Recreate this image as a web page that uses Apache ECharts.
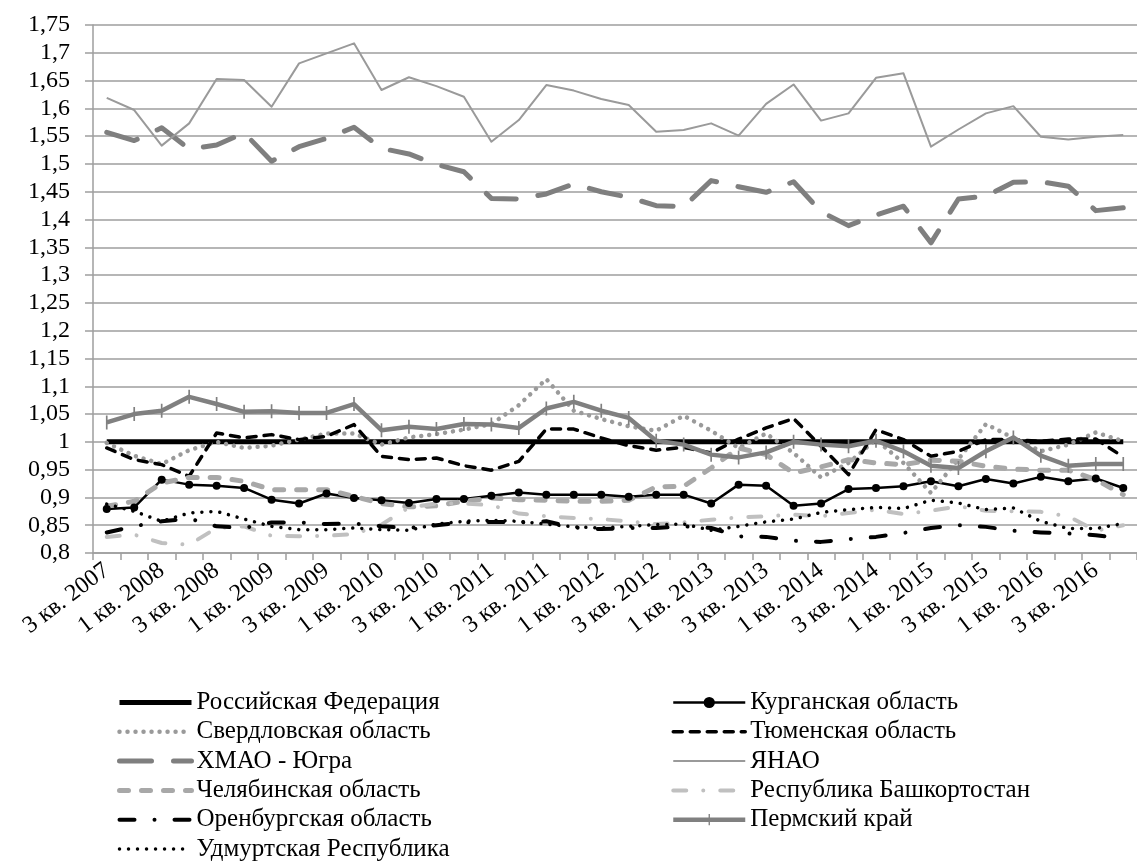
<!DOCTYPE html>
<html><head><meta charset="utf-8">
<script src="https://cdn.jsdelivr.net/npm/echarts@6/dist/echarts.min.js"></script>
<style>html,body{margin:0;padding:0;background:#fff}#c{width:1137px;height:861px}</style>
</head><body><div id="c"></div>
<script>
var categories = ['3 кв. 2007','4 кв. 2007',
 '1 кв. 2008','2 кв. 2008','3 кв. 2008','4 кв. 2008',
 '1 кв. 2009','2 кв. 2009','3 кв. 2009','4 кв. 2009',
 '1 кв. 2010','2 кв. 2010','3 кв. 2010','4 кв. 2010',
 '1 кв. 2011','2 кв. 2011','3 кв. 2011','4 кв. 2011',
 '1 кв. 2012','2 кв. 2012','3 кв. 2012','4 кв. 2012',
 '1 кв. 2013','2 кв. 2013','3 кв. 2013','4 кв. 2013',
 '1 кв. 2014','2 кв. 2014','3 кв. 2014','4 кв. 2014',
 '1 кв. 2015','2 кв. 2015','3 кв. 2015','4 кв. 2015',
 '1 кв. 2016','2 кв. 2016','3 кв. 2016','4 кв. 2016'];

var rf = [1,1,1,1,1,1,1,1,1,1,1,1,1,1,1,1,1,1,1,1,1,1,1,1,1,1,1,1,1,1,1,1,1,1,1,1,1,1];
var kurgan = [0.879,0.882,0.932,0.923,0.921,0.917,0.896,0.889,0.907,0.899,0.895,0.890,0.897,0.897,0.903,0.909,0.905,0.905,0.905,0.901,0.905,0.905,0.889,0.923,0.921,0.885,0.889,0.915,0.917,0.920,0.929,0.920,0.933,0.925,0.937,0.929,0.934,0.917];
var sverdl = [0.998,0.975,0.960,0.985,1.000,0.989,0.993,1.004,1.015,1.015,0.995,1.008,1.014,1.022,1.032,1.066,1.113,1.056,1.041,1.028,1.020,1.047,1.020,0.989,1.015,0.980,0.936,0.962,1.004,0.962,0.908,0.969,1.032,1.007,0.983,0.995,1.017,1.001];
var tyumen = [0.989,0.968,0.959,0.938,1.016,1.007,1.013,1.004,1.010,1.031,0.974,0.968,0.971,0.957,0.949,0.965,1.023,1.023,1.007,0.993,0.985,0.990,0.980,1.005,1.025,1.042,0.992,0.941,1.022,1.004,0.974,0.983,1.004,1.004,1.001,1.005,1.005,0.973];
var khmao = [1.557,1.542,1.565,1.527,1.534,1.556,1.505,1.531,1.546,1.566,1.528,1.518,1.499,1.486,1.438,1.437,1.446,1.464,1.450,1.440,1.425,1.423,1.470,1.459,1.449,1.468,1.414,1.389,1.408,1.424,1.358,1.437,1.442,1.467,1.468,1.460,1.416,1.421];
var yanao = [1.619,1.597,1.533,1.573,1.653,1.651,1.603,1.681,1.699,1.717,1.633,1.656,1.640,1.621,1.540,1.579,1.642,1.632,1.617,1.606,1.558,1.561,1.573,1.551,1.608,1.643,1.578,1.591,1.655,1.663,1.531,1.562,1.591,1.604,1.549,1.544,1.549,1.552];
var chelyab = [0.884,0.893,0.926,0.936,0.936,0.929,0.914,0.914,0.914,0.902,0.889,0.883,0.885,0.893,0.899,0.896,0.895,0.893,0.893,0.895,0.919,0.920,0.953,0.989,0.977,0.944,0.955,0.968,0.962,0.959,0.967,0.965,0.956,0.951,0.949,0.949,0.932,0.905];
var bashk = [0.829,0.833,0.818,0.815,0.845,0.848,0.831,0.830,0.831,0.834,0.851,0.882,0.889,0.889,0.886,0.871,0.866,0.863,0.861,0.857,0.852,0.855,0.860,0.864,0.866,0.869,0.866,0.872,0.878,0.870,0.876,0.884,0.876,0.875,0.874,0.866,0.840,0.850];
var orenb = [0.837,0.848,0.857,0.862,0.848,0.845,0.855,0.855,0.852,0.853,0.848,0.845,0.850,0.855,0.856,0.855,0.857,0.846,0.843,0.845,0.845,0.848,0.845,0.830,0.829,0.822,0.820,0.825,0.829,0.836,0.845,0.850,0.847,0.840,0.837,0.835,0.832,0.826];
var perm = [1.035,1.050,1.056,1.081,1.068,1.054,1.055,1.052,1.052,1.068,1.021,1.027,1.023,1.032,1.031,1.025,1.060,1.072,1.056,1.043,1.002,0.995,0.977,0.972,0.981,1.000,0.995,0.992,1.002,0.983,0.957,0.953,0.983,1.008,0.975,0.957,0.960,0.960];
var udm = [0.888,0.875,0.857,0.872,0.875,0.861,0.848,0.842,0.842,0.845,0.842,0.841,0.852,0.857,0.859,0.857,0.852,0.847,0.845,0.848,0.851,0.852,0.841,0.848,0.856,0.861,0.873,0.878,0.882,0.880,0.895,0.890,0.878,0.881,0.857,0.844,0.844,0.853];

var names = ['Российская Федерация','Курганская область','Свердловская область','Тюменская область','ХМАО - Югра','ЯНАО','Челябинская область','Республика Башкортостан','Оренбургская область','Пермский край','Удмуртская Республика'];

var FONT = 'Liberation Serif';
var GRID = '#9e9e9e';
var TICK_MARK = 'path://M0,0 L0.01,0 L0.01,0.01 Z M20,20 L19.99,20 L19.99,19.99 Z M8.8,0 L11.2,0 L11.2,20 L8.8,20 Z';

function line(name, data, color, width, type, extra) {
  var s = {
    name: name, type: 'line', data: data, symbol: 'none', showSymbol: false,
    lineStyle: {color: color, width: width, type: type || 'solid', cap: (type && type !== 'solid') ? 'round' : 'butt', join: 'round'},
    itemStyle: {color: color},
    emphasis: {disabled: true}, animation: false
  };
  if (extra) for (var k in extra) s[k] = extra[k];
  return s;
}

var series = [
  line(names[0], rf, '#000000', 5),
  line(names[1], kurgan, '#000000', 2.5, 'solid', {symbol: 'circle', symbolSize: 8, showSymbol: true}),
  line(names[2], sverdl, '#9a9a9a', 4.5, [0.01, 8]),
  line(names[3], tyumen, '#000000', 3.5, [9, 8]),
  line(names[4], khmao, '#7f7f7f', 5, [32, 22]),
  line(names[5], yanao, '#9a9a9a', 2),
  line(names[6], chelyab, '#a8a8a8', 5, [9, 13]),
  line(names[7], bashk, '#c0c0c0', 4, [13, 17, 0.01, 17]),
  line(names[8], orenb, '#000000', 4, [15, 20, 0.01, 20]),
  line(names[9], perm, '#808080', 4.5, 'solid', {symbol: TICK_MARK, symbolSize: 14, showSymbol: true}),
  line(names[10], udm, '#000000', 3.5, [0.01, 9])
];

var withMarker = {};
withMarker[names[1]] = true;
withMarker[names[9]] = true;
function legendItems(list) {
  return list.map(function (n) {
    var s = series[names.indexOf(n)];
    var item = {name: n, lineStyle: {color: s.lineStyle.color, width: s.lineStyle.width, type: s.lineStyle.type, cap: s.lineStyle.cap}};
    if (!withMarker[n]) item.itemStyle = {opacity: 0};
    return item;
  });
}
var legendText = {fontFamily: FONT, fontSize: 25, lineHeight: 22, color: '#000'};

var chart = echarts.init(document.getElementById('c'), null, {renderer: 'canvas'});
chart.setOption({
  animation: false,
  backgroundColor: '#ffffff',
  textStyle: {fontFamily: FONT},
  grid: {left: 93, top: 25, width: 1053, height: 528},
  xAxis: {
    type: 'category', data: categories, boundaryGap: true,
    axisLine: {lineStyle: {color: GRID, width: 1.5}},
    axisTick: {show: true, interval: 0, length: 7, lineStyle: {color: GRID, width: 1.5}},
    axisLabel: {interval: 1, rotate: 37, margin: 15, fontFamily: FONT, fontSize: 24, color: '#000'},
    splitLine: {show: false}
  },
  yAxis: {
    type: 'value', min: 0.8, max: 1.75, interval: 0.05,
    axisLine: {show: true, lineStyle: {color: GRID, width: 1.5}},
    axisTick: {show: true, inside: false, length: 8, lineStyle: {color: GRID, width: 1.5}},
    axisLabel: {margin: 23, fontFamily: FONT, fontSize: 24, color: '#000',
      formatter: function (v) { return String(+v.toFixed(2)).replace('.', ','); }},
    splitLine: {show: true, lineStyle: {color: GRID, width: 1.5}}
  },
  legend: [
    {data: legendItems([names[0], names[2], names[4], names[6], names[8], names[10]]),
     orient: 'vertical', left: 117, top: 690, height: 240, padding: 0, itemWidth: 72, itemHeight: 14, itemGap: 4.3,
     textStyle: legendText, selectedMode: false},
    {data: legendItems([names[1], names[3], names[5], names[7], names[9]]),
     orient: 'vertical', left: 671, top: 690, height: 240, padding: 0, itemWidth: 72, itemHeight: 14, itemGap: 4.3,
     textStyle: legendText, selectedMode: false}
  ],
  series: series
});
</script></body></html>
